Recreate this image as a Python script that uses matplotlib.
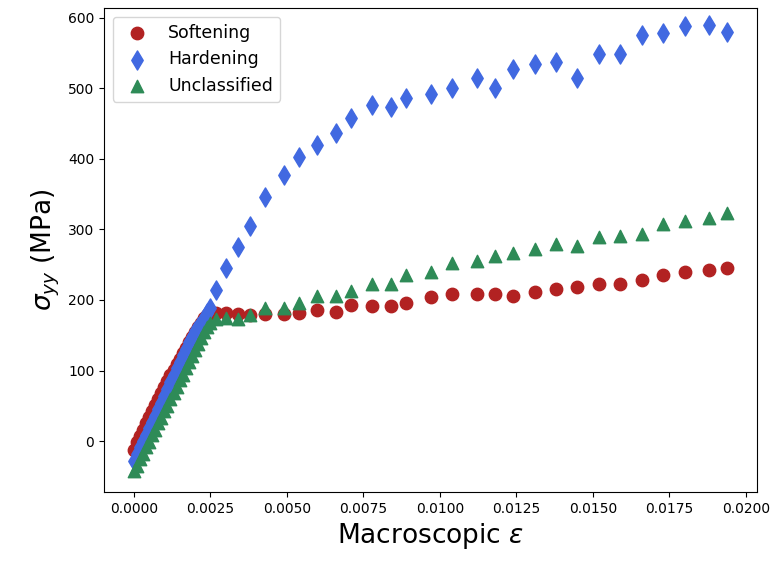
import matplotlib
matplotlib.use('Agg')
import matplotlib.pyplot as plt

# strain steps shared by the three curves
strain = [0.0000, 0.0001, 0.0002, 0.0003, 0.0004, 0.0005, 0.0006, 0.0007, 0.0008,
          0.0009, 0.0010, 0.0011, 0.0012, 0.0013, 0.0014, 0.0015, 0.0016, 0.0017,
          0.0018, 0.0019, 0.0020, 0.0021, 0.0022, 0.0023, 0.0024, 0.0025,
          0.0027, 0.0030, 0.0034, 0.0038, 0.0043, 0.0049, 0.0054, 0.0060, 0.0066,
          0.0071, 0.0078, 0.0084, 0.0089, 0.0097, 0.0104, 0.0112, 0.0118, 0.0124,
          0.0131, 0.0138, 0.0145, 0.0152, 0.0159, 0.0166, 0.0173, 0.0180, 0.0188,
          0.0194]

softening = [-12, -2, 7, 16, 25, 34, 43, 51, 60, 68, 77, 85, 93, 101, 109, 117,
             125, 132, 140, 147, 154, 161, 168, 174, 179, 182,
             182, 181, 180, 178, 180, 180, 182, 186, 183, 193, 191, 192, 196, 204,
             208, 208, 208, 205, 212, 216, 218, 222, 223, 229, 236, 240, 242, 245]

hardening = [-28, -19, -9, 0, 9, 18, 27, 36, 45, 54, 64, 74, 84, 93, 103, 112,
             122, 131, 140, 148, 156, 162, 168, 174, 181, 189,
             214, 245, 275, 305, 346, 377, 403, 420, 437, 458, 477, 474, 487, 492,
             501, 515, 501, 528, 535, 538, 515, 549, 549, 575, 579, 588, 590, 580]

unclassified = [-43, -35, -26, -18, -9, -1, 8, 16, 25, 33, 42, 50, 59, 68, 77, 86,
                94, 103, 112, 120, 129, 137, 146, 154, 161, 167,
                173, 175, 173, 179, 188, 189, 196, 205, 206, 213, 222, 223, 235, 239,
                252, 255, 262, 266, 272, 279, 276, 289, 290, 293, 307, 312, 316, 323]

fig = plt.figure(figsize=(7.71, 5.66), dpi=100)
ax = fig.add_axes([0.135, 0.131, 0.847, 0.855])

ax.scatter(strain, softening, marker='o', s=80, color='firebrick', label='Softening')
ax.scatter(strain, hardening, marker='d', s=95, color='royalblue', label='Hardening')
ax.scatter(strain, unclassified, marker='^', s=80, color='seagreen', label='Unclassified')

ax.set_ylim(-72, 614)
ax.set_xlabel(r'Macroscopic $\epsilon$', fontsize=19)
ax.set_ylabel(r'$\sigma_{yy}$ (MPa)', fontsize=19)
ax.tick_params(labelsize=10)
ax.legend(loc='upper left', fontsize=12.5)

fig.savefig('out.png', dpi=100)
